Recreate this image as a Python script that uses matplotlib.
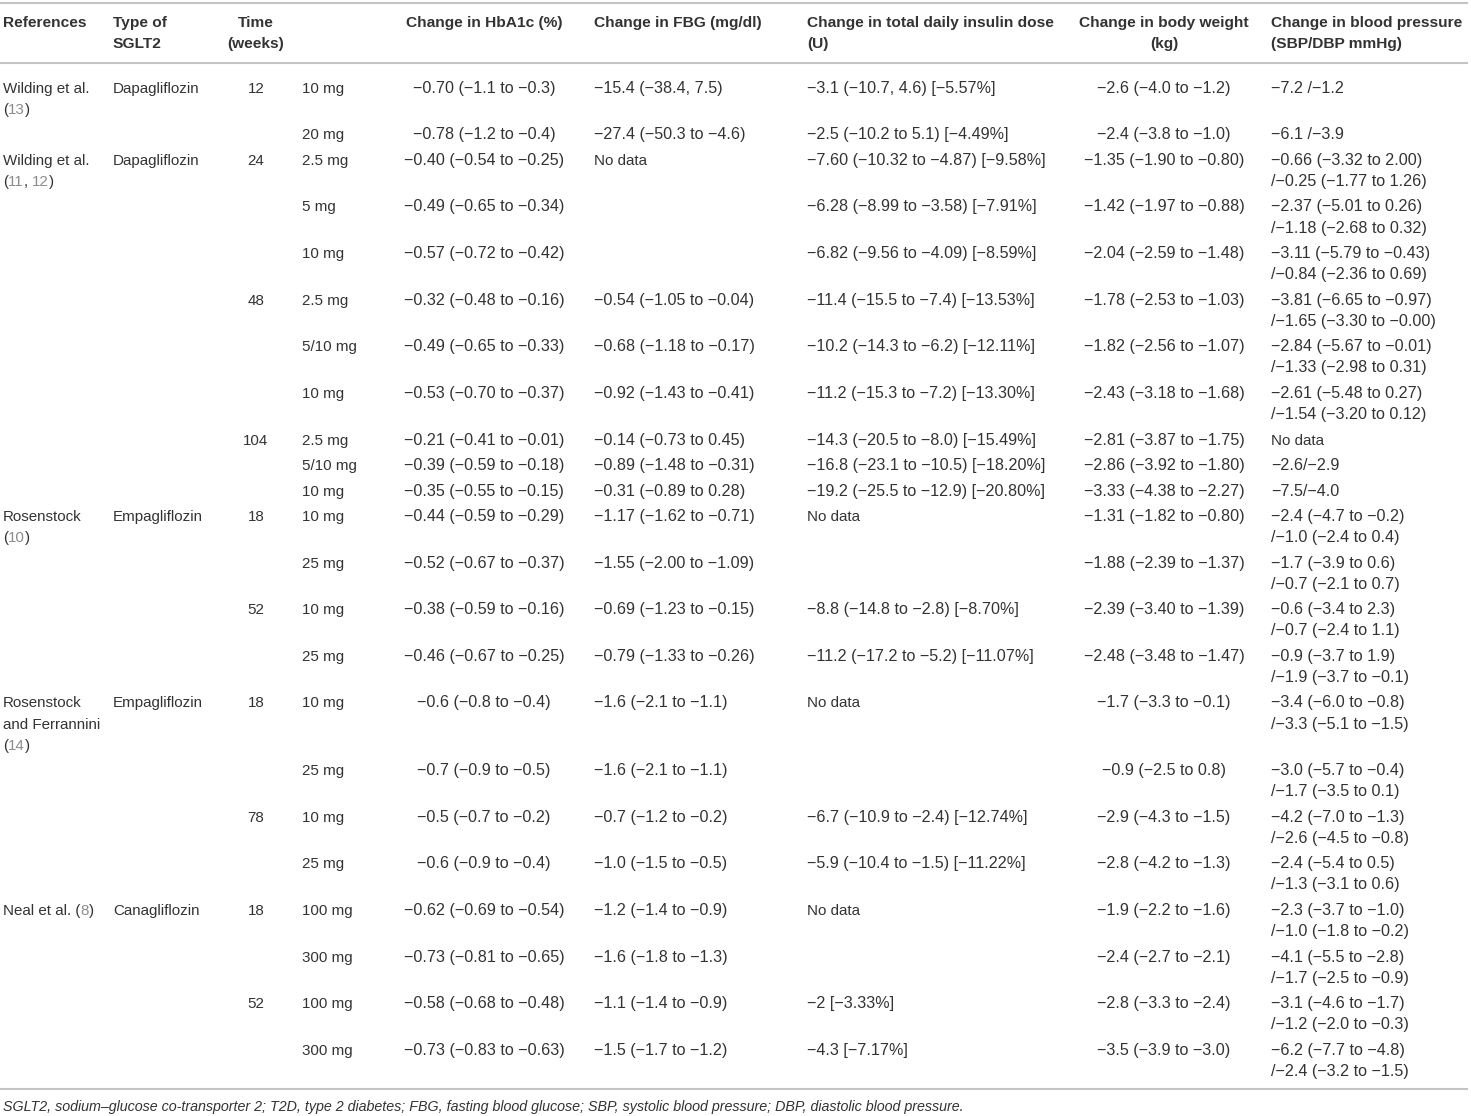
import re
import matplotlib
matplotlib.use("Agg")
import matplotlib.pyplot as plt

# ---------------- data ----------------
headers = [
    "References",
    "Type of\nSGLT2",
    "Time\n(weeks)",
    "",
    "Change in HbA1c (%)",
    "Change in FBG (mg/dl)",
    "Change in total daily insulin dose\n(U)",
    "Change in body weight\n(kg)",
    "Change in blood pressure\n(SBP/DBP mmHg)",
]

# {..} marks a citation number shown in grey
references = [
    "Wilding et al.\n({13})", "", "Wilding et al.\n({11}, {12})", "", "", "", "", "", "", "", "",
    "Rosenstock\n({10})", "", "", "",
    "Rosenstock\nand Ferrannini\n({14})", "", "", "",
    "Neal et al. ({8})", "", "", "",
]
sglt2_types = [
    "Dapagliflozin", "", "Dapagliflozin", "", "", "", "", "", "", "", "",
    "Empagliflozin", "", "", "",
    "Empagliflozin", "", "", "",
    "Canagliflozin", "", "", "",
]
times = [
    "12", "", "24", "", "", "48", "", "", "104", "", "",
    "18", "", "52", "",
    "18", "", "78", "",
    "18", "", "52", "",
]
doses = [
    "10 mg", "20 mg", "2.5 mg", "5 mg", "10 mg", "2.5 mg", "5/10 mg", "10 mg", "2.5 mg", "5/10 mg", "10 mg",
    "10 mg", "25 mg", "10 mg", "25 mg",
    "10 mg", "25 mg", "10 mg", "25 mg",
    "100 mg", "300 mg", "100 mg", "300 mg",
]
hba1c = [
    "−0.70 (−1.1 to −0.3)", "−0.78 (−1.2 to −0.4)", "−0.40 (−0.54 to −0.25)",
    "−0.49 (−0.65 to −0.34)", "−0.57 (−0.72 to −0.42)", "−0.32 (−0.48 to −0.16)",
    "−0.49 (−0.65 to −0.33)", "−0.53 (−0.70 to −0.37)", "−0.21 (−0.41 to −0.01)",
    "−0.39 (−0.59 to −0.18)", "−0.35 (−0.55 to −0.15)", "−0.44 (−0.59 to −0.29)",
    "−0.52 (−0.67 to −0.37)", "−0.38 (−0.59 to −0.16)", "−0.46 (−0.67 to −0.25)",
    "−0.6 (−0.8 to −0.4)", "−0.7 (−0.9 to −0.5)", "−0.5 (−0.7 to −0.2)",
    "−0.6 (−0.9 to −0.4)", "−0.62 (−0.69 to −0.54)", "−0.73 (−0.81 to −0.65)",
    "−0.58 (−0.68 to −0.48)", "−0.73 (−0.83 to −0.63)",
]
fbg = [
    "−15.4 (−38.4, 7.5)", "−27.4 (−50.3 to −4.6)", "No data", "", "",
    "−0.54 (−1.05 to −0.04)", "−0.68 (−1.18 to −0.17)", "−0.92 (−1.43 to −0.41)",
    "−0.14 (−0.73 to 0.45)", "−0.89 (−1.48 to −0.31)", "−0.31 (−0.89 to 0.28)",
    "−1.17 (−1.62 to −0.71)", "−1.55 (−2.00 to −1.09)", "−0.69 (−1.23 to −0.15)",
    "−0.79 (−1.33 to −0.26)", "−1.6 (−2.1 to −1.1)", "−1.6 (−2.1 to −1.1)",
    "−0.7 (−1.2 to −0.2)", "−1.0 (−1.5 to −0.5)", "−1.2 (−1.4 to −0.9)",
    "−1.6 (−1.8 to −1.3)", "−1.1 (−1.4 to −0.9)", "−1.5 (−1.7 to −1.2)",
]
insulin = [
    "−3.1 (−10.7, 4.6) [−5.57%]", "−2.5 (−10.2 to 5.1) [−4.49%]",
    "−7.60 (−10.32 to −4.87) [−9.58%]", "−6.28 (−8.99 to −3.58) [−7.91%]",
    "−6.82 (−9.56 to −4.09) [−8.59%]", "−11.4 (−15.5 to −7.4) [−13.53%]",
    "−10.2 (−14.3 to −6.2) [−12.11%]", "−11.2 (−15.3 to −7.2) [−13.30%]",
    "−14.3 (−20.5 to −8.0) [−15.49%]", "−16.8 (−23.1 to −10.5) [−18.20%]",
    "−19.2 (−25.5 to −12.9) [−20.80%]", "No data", "",
    "−8.8 (−14.8 to −2.8) [−8.70%]", "−11.2 (−17.2 to −5.2) [−11.07%]",
    "No data", "", "−6.7 (−10.9 to −2.4) [−12.74%]", "−5.9 (−10.4 to −1.5) [−11.22%]",
    "No data", "", "−2 [−3.33%]", "−4.3 [−7.17%]",
]
body_weight = [
    "−2.6 (−4.0 to −1.2)", "−2.4 (−3.8 to −1.0)", "−1.35 (−1.90 to −0.80)",
    "−1.42 (−1.97 to −0.88)", "−2.04 (−2.59 to −1.48)", "−1.78 (−2.53 to −1.03)",
    "−1.82 (−2.56 to −1.07)", "−2.43 (−3.18 to −1.68)", "−2.81 (−3.87 to −1.75)",
    "−2.86 (−3.92 to −1.80)", "−3.33 (−4.38 to −2.27)", "−1.31 (−1.82 to −0.80)",
    "−1.88 (−2.39 to −1.37)", "−2.39 (−3.40 to −1.39)", "−2.48 (−3.48 to −1.47)",
    "−1.7 (−3.3 to −0.1)", "−0.9 (−2.5 to 0.8)", "−2.9 (−4.3 to −1.5)",
    "−2.8 (−4.2 to −1.3)", "−1.9 (−2.2 to −1.6)", "−2.4 (−2.7 to −2.1)",
    "−2.8 (−3.3 to −2.4)", "−3.5 (−3.9 to −3.0)",
]
blood_pressure = [
    "−7.2 /−1.2", "−6.1 /−3.9",
    "−0.66 (−3.32 to 2.00)\n/−0.25 (−1.77 to 1.26)",
    "−2.37 (−5.01 to 0.26)\n/−1.18 (−2.68 to 0.32)",
    "−3.11 (−5.79 to −0.43)\n/−0.84 (−2.36 to 0.69)",
    "−3.81 (−6.65 to −0.97)\n/−1.65 (−3.30 to −0.00)",
    "−2.84 (−5.67 to −0.01)\n/−1.33 (−2.98 to 0.31)",
    "−2.61 (−5.48 to 0.27)\n/−1.54 (−3.20 to 0.12)",
    "No data", "−2.6/−2.9", "−7.5/−4.0",
    "−2.4 (−4.7 to −0.2)\n/−1.0 (−2.4 to 0.4)",
    "−1.7 (−3.9 to 0.6)\n/−0.7 (−2.1 to 0.7)",
    "−0.6 (−3.4 to 2.3)\n/−0.7 (−2.4 to 1.1)",
    "−0.9 (−3.7 to 1.9)\n/−1.9 (−3.7 to −0.1)",
    "−3.4 (−6.0 to −0.8)\n/−3.3 (−5.1 to −1.5)",
    "−3.0 (−5.7 to −0.4)\n/−1.7 (−3.5 to 0.1)",
    "−4.2 (−7.0 to −1.3)\n/−2.6 (−4.5 to −0.8)",
    "−2.4 (−5.4 to 0.5)\n/−1.3 (−3.1 to 0.6)",
    "−2.3 (−3.7 to −1.0)\n/−1.0 (−1.8 to −0.2)",
    "−4.1 (−5.5 to −2.8)\n/−1.7 (−2.5 to −0.9)",
    "−3.1 (−4.6 to −1.7)\n/−1.2 (−2.0 to −0.3)",
    "−6.2 (−7.7 to −4.8)\n/−2.4 (−3.2 to −1.5)",
]
footnote = ("SGLT2, sodium–glucose co-transporter 2; T2D, type 2 diabetes; FBG, fasting blood glucose; "
            "SBP, systolic blood pressure; DBP, diastolic blood pressure.")

columns = [references, sglt2_types, times, doses, hba1c, fbg, insulin, body_weight, blood_pressure]

# ---------------- layout / style ----------------
W, H = 1471, 1116
col_x = [3, 113, 256, 302, 484, 594, 807, 1164, 1271]
col_ha = ["left", "left", "center", "left", "center", "left", "left", "center", "left"]
numeric_col = [False, False, False, False, True, True, True, True, True]
TXT = "#333333"
GREY = "#8c8c8c"
RULE = "#c4c4c4"
FS = 10.9        # regular text
FS_NUM = 11.65   # numeric values (wider digits in the original face)
FS_HEAD = 11.15
FS_FOOT = 10.25
FAM = ["Liberation Sans", "DejaVu Sans"]

plt.rcParams["font.family"] = FAM

fig = plt.figure(figsize=(W / 100, H / 100), dpi=100)
ax = fig.add_axes([0, 0, 1, 1])
ax.set_xlim(0, W)
ax.set_ylim(H, 0)
ax.axis("off")
renderer = fig.canvas.get_renderer()


def text_width(s, fs):
    t = ax.text(0, 0, s, fontsize=fs)
    w = t.get_window_extent(renderer).width
    t.remove()
    return w


def draw_rich(x, y, s, ha="left", fs=FS):
    parts = re.split(r"(\{.*?\})", s)
    if ha == "left" and len(parts) > 1:
        cur = x
        ref_w = text_width("x", fs)
        for p in parts:
            if not p:
                continue
            grey = p.startswith("{")
            seg = p.strip("{}")
            ax.text(cur, y, seg, fontsize=fs, color=GREY if grey else TXT,
                    ha="left", va="baseline")
            cur += text_width(seg + "x", fs) - ref_w
    else:
        ax.text(x, y, s.replace("{", "").replace("}", ""), fontsize=fs, color=TXT,
                ha=ha, va="baseline")


# header
HB1, HLS = 26.7, 21.4
for hx, hha, h in zip(col_x, col_ha, headers):
    for k, line in enumerate(h.split("\n")):
        ax.text(hx, HB1 + k * HLS, line, fontsize=FS_HEAD, fontweight="bold", color=TXT,
                ha=hha, va="baseline")

# rules
for yy in (2.7, 63, 1089):
    ax.plot([0, 1468], [yy, yy], color=RULE, lw=1.5, solid_capstyle="butt")

# body
ROW1 = 92.8      # baseline of first data line
LS = 21.1        # line spacing within a cell
ROWPAD = 25.5    # height of a single-line row
y = ROW1
n_rows = len(doses)
for i in range(n_rows):
    nlines = 1
    for cx, cha, isnum, col in zip(col_x, col_ha, numeric_col, columns):
        cell = col[i]
        if not cell:
            continue
        lines = cell.split("\n")
        nlines = max(nlines, len(lines))
        fs = FS_NUM if (isnum and cell != "No data") else FS
        for k, line in enumerate(lines):
            draw_rich(cx, y + k * LS, line, ha=cha, fs=fs)
    y += ROWPAD + LS * (nlines - 1)

ax.text(3, 1111, footnote, fontsize=FS_FOOT, style="italic", color=TXT,
        ha="left", va="baseline")

fig.savefig("out.png", dpi=100)
